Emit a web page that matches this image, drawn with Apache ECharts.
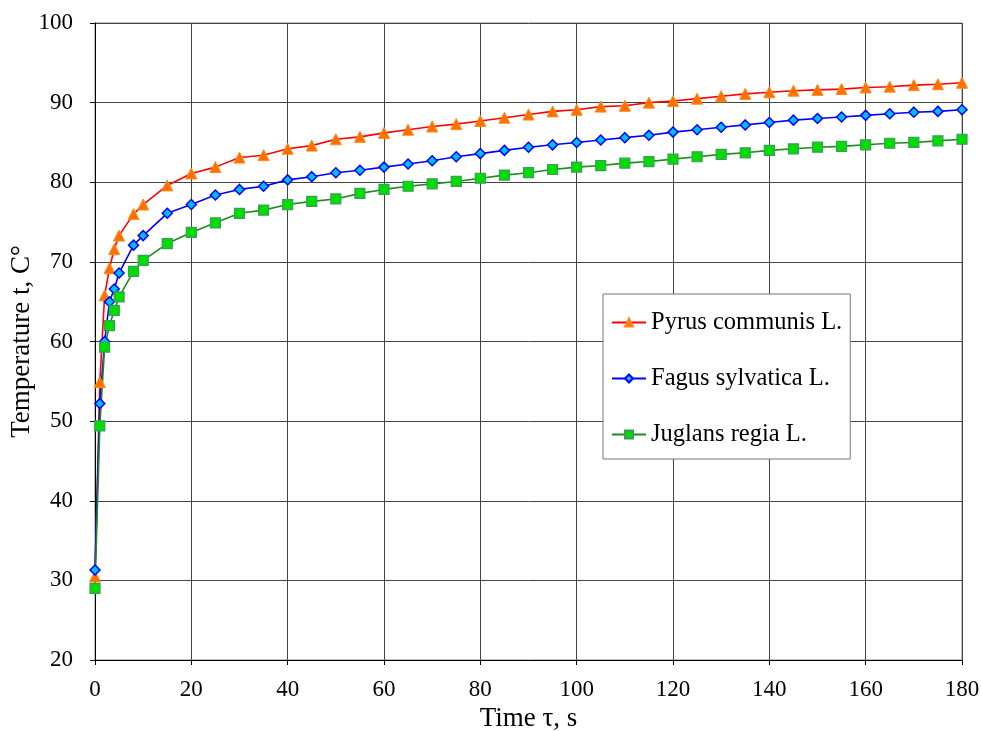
<!DOCTYPE html>
<html>
<head>
<meta charset="utf-8">
<script src="https://cdn.jsdelivr.net/npm/echarts@6/dist/echarts.min.js"></script>
<style>html,body{margin:0;padding:0;background:#fff;}#c{width:981px;height:731px;}</style>
</head>
<body>
<div id="c"></div>
<script>
var times = [0,1,2,3,4,5,8,10,15,20,25,30,35,40,45,50,55,60,65,70,75,80,85,90,95,100,105,110,115,120,125,130,135,140,145,150,155,160,165,170,175,180];
var pyrus = [30.5,54.9,65.8,69.2,71.6,73.3,76.0,77.2,79.6,81.1,81.9,83.1,83.4,84.2,84.6,85.4,85.7,86.2,86.6,87.0,87.3,87.7,88.1,88.5,88.9,89.1,89.5,89.6,90.0,90.2,90.5,90.8,91.1,91.3,91.5,91.6,91.7,91.9,92.0,92.2,92.3,92.5];
var fagus = [31.3,52.2,60.0,65.0,66.6,68.6,72.1,73.3,76.1,77.2,78.4,79.1,79.5,80.3,80.7,81.2,81.5,81.9,82.3,82.7,83.2,83.6,84.0,84.4,84.7,85.0,85.3,85.6,85.9,86.3,86.6,86.9,87.2,87.5,87.8,88.0,88.2,88.4,88.6,88.8,88.9,89.1];
var juglans = [29.0,49.4,59.3,62.0,63.9,65.6,68.8,70.2,72.3,73.7,74.9,76.1,76.5,77.2,77.6,77.9,78.6,79.1,79.5,79.8,80.1,80.5,80.9,81.2,81.6,81.9,82.1,82.4,82.6,82.9,83.2,83.5,83.7,84.0,84.2,84.4,84.5,84.7,84.9,85.0,85.2,85.4];
var names = ['Pyrus communis L.','Fagus sylvatica L.','Juglans regia L.'];
var xTitle = 'Time \u03c4, s';
var yTitle = 'Temperature t, C\u00b0';

function pairs(v){ return times.map(function(t,i){ return [t, v[i]]; }); }
var FONT = '"Liberation Serif","Times New Roman",serif';
var chart = echarts.init(document.getElementById('c'), null, {renderer:'canvas'});
chart.setOption({
  animation:false,
  backgroundColor:'#fff',
  grid:{left:95, right:19, top:23, bottom:71, containLabel:false, outerBoundsMode:'none',
    show:true, borderColor:'#888', borderWidth:1, backgroundColor:'transparent'},
  xAxis:{type:'value', min:0, max:180, interval:20,
    name:xTitle, nameLocation:'middle', nameGap:45, nameMoveOverlap:false,
    nameTextStyle:{fontFamily:FONT, fontSize:27, color:'#000'},
    axisLine:{show:true, onZero:false, lineStyle:{color:'#000', width:1}},
    axisTick:{show:true, inside:false, length:5, lineStyle:{color:'#000'}},
    axisLabel:{fontFamily:FONT, fontSize:23, color:'#000', margin:18},
    splitLine:{show:true, lineStyle:{color:'#444', width:1}}},
  yAxis:{type:'value', min:20, max:100, interval:10,
    name:yTitle, nameLocation:'middle', nameGap:60, nameRotate:90, nameMoveOverlap:false,
    nameTextStyle:{fontFamily:FONT, fontSize:27, color:'#000'},
    axisLine:{show:true, onZero:false, lineStyle:{color:'#000', width:1}},
    axisTick:{show:true, inside:false, length:5, lineStyle:{color:'#000'}},
    axisLabel:{fontFamily:FONT, fontSize:23, color:'#000', margin:22},
    splitLine:{show:true, lineStyle:{color:'#444', width:1}}},
  legend:{show:true, orient:'vertical', left:603, top:294,
    backgroundColor:'#fff', borderColor:'#777', borderWidth:1,
    padding:[16,8,12,8], itemGap:31, itemWidth:34, itemHeight:10,
    textStyle:{fontFamily:FONT, fontSize:24.5, color:'#000'},
    data:names},
  series:[
    {name:names[0], type:'line', data:pairs(pyrus), symbol:'triangle', symbolSize:11,
      lineStyle:{color:'#ff0000', width:1.6},
      itemStyle:{color:'#ff7000', borderColor:'#ff8a1a', borderWidth:1}, z:3},
    {name:names[1], type:'line', data:pairs(fagus), symbol:'diamond', symbolSize:10,
      lineStyle:{color:'#0000ff', width:1.6},
      itemStyle:{color:'#00bfff', borderColor:'#0000ff', borderWidth:1.5}, z:3},
    {name:names[2], type:'line', data:pairs(juglans), symbol:'rect', symbolSize:10,
      lineStyle:{color:'#1f8a1f', width:1.6},
      itemStyle:{color:'#00dd00', borderColor:'#3c9a5a', borderWidth:1.2}, z:3}
  ]
});
</script>
</body>
</html>
